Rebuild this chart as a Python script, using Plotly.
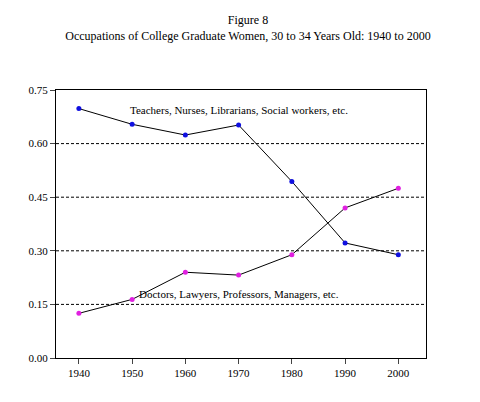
import plotly.graph_objects as go

years = [1940, 1950, 1960, 1970, 1980, 1990, 2000]
teachers = [0.698, 0.654, 0.624, 0.652, 0.494, 0.322, 0.289]
doctors = [0.125, 0.164, 0.240, 0.232, 0.289, 0.420, 0.475]
yticks = [0.00, 0.15, 0.30, 0.45, 0.60, 0.75]

fig = go.Figure()
fig.add_trace(go.Scatter(x=years, y=teachers, mode="lines+markers",
    line=dict(color="black", width=1), marker=dict(color="#1010e0", size=5)))
fig.add_trace(go.Scatter(x=years, y=doctors, mode="lines+markers",
    line=dict(color="black", width=1), marker=dict(color="#e020e0", size=5)))
for v in yticks[1:-1]:
    fig.add_shape(type="line", xref="paper", x0=0, x1=1, y0=v, y1=v,
                  line=dict(color="black", width=1, dash="3px,2px"), layer="below")
fig.add_annotation(x=1970, y=0.695, text="Teachers, Nurses, Librarians, Social workers, etc.",
                   showarrow=False, font=dict(size=11))
fig.add_annotation(x=1970, y=0.18, text="Doctors, Lawyers, Professors, Managers, etc.",
                   showarrow=False, font=dict(size=11))
fig.update_layout(
    width=480, height=402, showlegend=False,
    paper_bgcolor="white", plot_bgcolor="white",
    font=dict(family="Liberation Serif", color="black", size=11),
    margin=dict(l=48, r=62, t=82, b=52),
    title=dict(text="Figure 8<br>Occupations of College Graduate Women, 30 to 34 Years Old: 1940 to 2000",
               x=0.5, xanchor="center", y=0.96, yanchor="top", font=dict(size=12)),
    xaxis=dict(range=[1935.7, 2005.2], tickvals=years, ticks="outside", ticklen=5,
               showgrid=False, zeroline=False, showline=True, linecolor="black", mirror=True),
    yaxis=dict(range=[0, 0.75], tickvals=yticks, tickformat=".2f", ticks="outside", ticklen=5,
               showgrid=False, zeroline=False, showline=True, linecolor="black", mirror=True),
)
fig.write_html("out.html")
